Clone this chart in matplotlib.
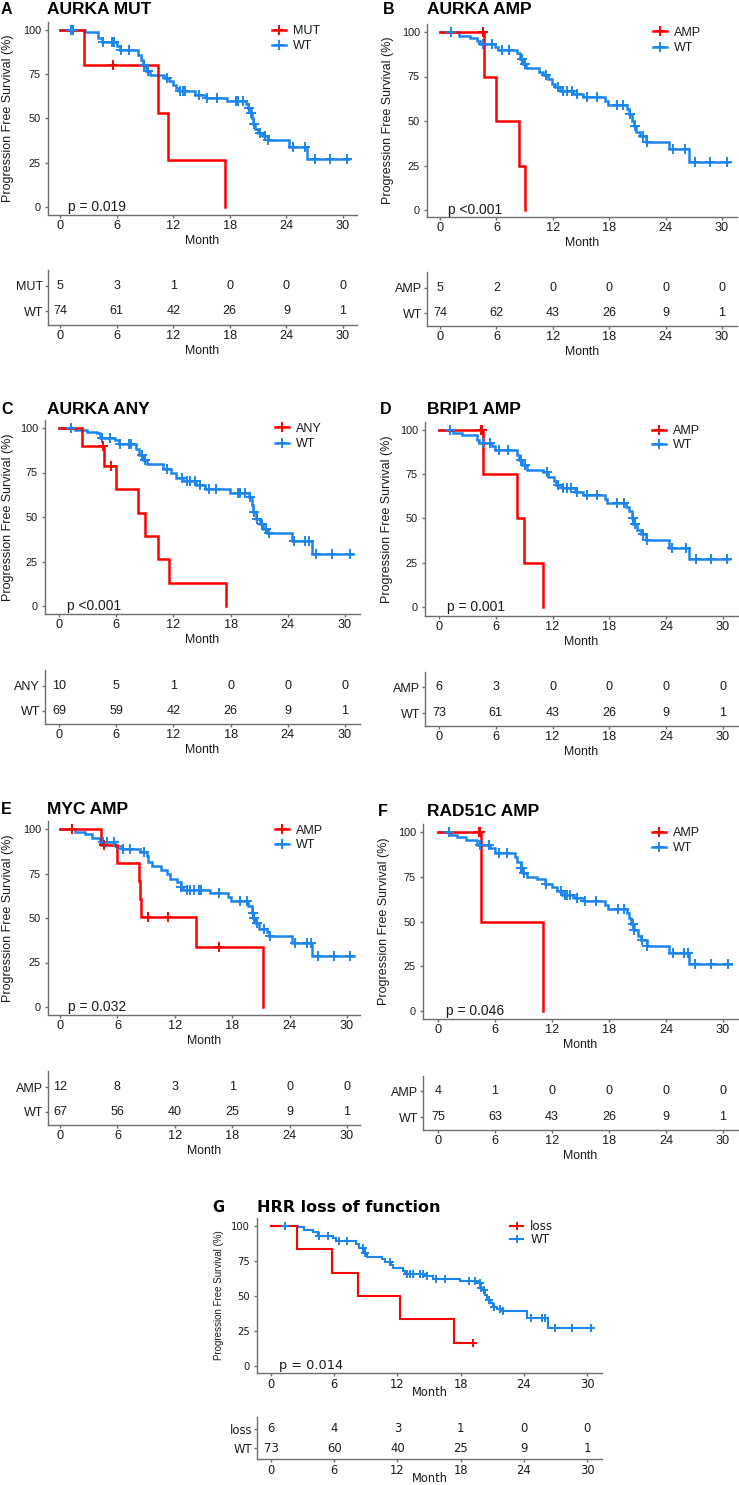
import numpy as np
import matplotlib
matplotlib.use("Agg")
import matplotlib.pyplot as plt
from matplotlib.transforms import Affine2D
from matplotlib.lines import Line2D

# ---------------- data ----------------
MONTHS = [0, 6, 12, 18, 24, 30]
SURV_TICKS = [0, 25, 50, 75, 100]

# A  AURKA MUT
a_title = "AURKA MUT"
a_groups = ["MUT", "WT"]
a_pval = "p = 0.019"
a_alt_t = [2.5, 10.4, 11.5, 17.5]
a_alt_s = [80, 53.3, 26.7, 0]
a_alt_cens = [5.6]
a_alt_end = 17.5
a_wt_t = [2.6, 4.0, 4.5, 6.0, 6.4, 8.3, 8.6, 8.8, 9.1, 9.5, 11.0, 11.6, 12.0, 12.3, 12.6,
          14.3, 15.5, 17.7, 19.7, 19.9, 20.2, 20.4, 20.5, 20.7, 21.0, 21.5, 22.0, 24.3, 26.2]
a_wt_s = [98.6, 95.5, 93, 91, 88.5, 86, 83, 80, 77, 74.5, 73, 71, 69, 67, 65.5,
          63.5, 61.5, 60, 58, 56, 53, 50, 47, 44, 42, 40, 38, 34, 27]
a_wt_cens = [1.2, 1.4, 4.6, 5.5, 5.7, 6.5, 7.3, 8.9, 9.3, 11.3, 12.7, 13.0, 13.3, 14.7, 15.6,
             16.6, 18.7, 18.9, 19.4, 20.0, 20.3, 20.55, 21.2, 21.7, 22.1, 24.7, 26.0, 27.0, 28.6, 30.4]
a_wt_end = 30.6
a_risk_alt = [5, 3, 1, 0, 0, 0]
a_risk_wt = [74, 61, 42, 26, 9, 1]

# B  AURKA AMP
b_title = "AURKA AMP"
b_groups = ["AMP", "WT"]
b_pval = "p <0.001"
b_alt_t = [4.7, 6.0, 8.4, 9.0]
b_alt_s = [75, 50, 25, 0]
b_alt_cens = [4.6]
b_alt_end = 9.0
b_wt_t = [2.0, 3.2, 3.9, 4.3, 5.9, 6.2, 8.2, 8.5, 8.8, 9.2, 10.5, 11.0, 11.5, 11.9, 12.2,
          12.8, 14.2, 15.2, 17.6, 17.9, 19.9, 20.1, 20.4, 20.6, 20.9, 21.3, 21.9, 24.4, 26.5]
b_wt_s = [98, 96.5, 95, 93, 91.5, 90, 88, 85, 82, 79.5, 77.5, 76, 73.5, 71, 69,
          67, 65, 63.5, 61, 59, 56.5, 54, 50, 47, 44, 41.5, 38, 34, 27]
b_wt_cens = [1.2, 4.6, 5.5, 6.6, 7.3, 8.7, 9.0, 11.3, 12.6, 13.1, 13.5, 14.0, 14.6, 15.6, 16.7,
             18.8, 19.5, 20.2, 20.7, 21.6, 22.0, 24.8, 26.1, 27.1, 28.7, 30.5]
b_wt_end = 30.7
b_risk_alt = [5, 2, 0, 0, 0, 0]
b_risk_wt = [74, 62, 43, 26, 9, 1]

# C  AURKA ANY
c_title = "AURKA ANY"
c_groups = ["ANY", "WT"]
c_pval = "p <0.001"
c_alt_t = [2.4, 4.7, 6.0, 8.3, 9.0, 10.4, 11.5, 17.5]
c_alt_s = [90, 78.8, 65.6, 52.5, 39.4, 26.3, 13.1, 0]
c_alt_cens = [4.6, 5.5]
c_alt_end = 17.5
c_wt_t = [1.7, 2.9, 4.0, 4.3, 5.9, 6.3, 8.1, 8.4, 8.8, 9.2, 10.9, 11.8, 12.3, 13.0, 14.4,
          15.3, 17.9, 19.9, 20.2, 20.4, 20.7, 21.1, 21.4, 21.8, 24.4, 26.5]
c_wt_s = [99, 98, 97, 94.5, 93, 91, 88, 85, 82, 79.5, 77, 74.5, 72, 70, 68,
          66, 63.5, 61, 57, 53, 49, 46, 43, 41, 36.5, 29]
c_wt_cens = [1.3, 4.5, 5.3, 6.4, 7.3, 7.5, 8.7, 9.0, 11.3, 12.9, 13.4, 13.7, 14.3, 14.8, 15.7,
             16.5, 18.8, 19.0, 19.5, 20.0, 20.45, 20.75, 21.3, 21.75, 22.0, 24.6, 25.8, 26.2,
             27.0, 28.6, 30.5]
c_wt_end = 30.8
c_risk_alt = [10, 5, 1, 0, 0, 0]
c_risk_wt = [69, 59, 42, 26, 9, 1]

# D  BRIP1 AMP
d_title = "BRIP1 AMP"
d_groups = ["AMP", "WT"]
d_pval = "p = 0.001"
d_alt_t = [4.6, 8.2, 9.0, 11.0]
d_alt_s = [75, 50, 25, 0]
d_alt_cens = [4.4, 4.5]
d_alt_end = 11.0
d_wt_t = [1.5, 2.4, 4.0, 4.2, 5.6, 5.9, 8.2, 8.5, 8.8, 9.3, 11.0, 11.5, 12.1, 12.4, 13.0,
          14.4, 15.2, 17.5, 17.7, 19.8, 20.1, 20.4, 20.5, 20.9, 21.3, 21.9, 24.3, 26.4]
d_wt_s = [98.5, 97, 94.5, 92.5, 91, 88.5, 86, 83, 80, 77.5, 76, 73.5, 71, 69, 67,
          65, 63, 61, 59, 56.5, 54, 50, 47, 43.5, 41, 38, 33.5, 27]
d_wt_cens = [1.2, 4.7, 5.4, 6.3, 7.3, 8.7, 9.1, 11.4, 12.6, 13.1, 13.5, 13.9, 14.6, 15.6, 16.7,
             18.8, 19.5, 20.45, 20.7, 21.6, 22.0, 24.6, 26.1, 27.1, 28.7, 30.4]
d_wt_end = 30.6
d_risk_alt = [6, 3, 0, 0, 0, 0]
d_risk_wt = [73, 61, 43, 26, 9, 1]

# E  MYC AMP
e_title = "MYC AMP"
e_groups = ["AMP", "WT"]
e_pval = "p = 0.032"
e_alt_t = [4.3, 6.0, 8.3, 8.4, 8.5, 14.2, 21.2]
e_alt_s = [90.9, 80.8, 70.7, 60.6, 50.5, 33.7, 0]
e_alt_cens = [1.3, 4.6, 9.2, 11.3, 16.6]
e_alt_end = 21.2
e_wt_t = [1.6, 2.6, 3.3, 4.2, 5.8, 6.5, 8.4, 9.1, 9.2, 9.6, 10.6, 11.2, 11.5, 12.2, 12.6,
          12.9, 15.7, 17.6, 17.9, 19.7, 20.1, 20.2, 20.4, 20.8, 21.6, 21.8, 24.2, 26.3]
e_wt_s = [98.5, 97, 95, 92.5, 90.5, 89, 87, 85, 81.5, 79, 77, 75, 72, 70, 67.5,
          66, 64, 62, 59.5, 57, 53, 50, 47, 44, 42, 40, 36, 28.5]
e_wt_cens = [1.3, 4.5, 4.9, 5.6, 6.6, 7.3, 8.8, 12.7, 13.3, 13.6, 14.0, 14.5, 14.7, 16.6, 18.8,
             19.5, 20.15, 20.3, 20.6, 21.3, 22.0, 24.6, 25.8, 26.2, 27.0, 28.6, 30.3]
e_wt_end = 30.7
e_risk_alt = [12, 8, 3, 1, 0, 0]
e_risk_wt = [67, 56, 40, 25, 9, 1]

# F  RAD51C AMP
f_title = "RAD51C AMP"
f_groups = ["AMP", "WT"]
f_pval = "p = 0.046"
f_alt_t = [4.5, 11.0]
f_alt_s = [50, 0]
f_alt_cens = [4.3, 4.4]
f_alt_end = 11.0
f_wt_t = [1.4, 2.0, 2.9, 4.1, 5.5, 6.0, 8.1, 8.3, 8.7, 8.9, 9.4, 10.4, 11.3, 12.0, 12.5,
          13.1, 14.3, 15.4, 17.6, 17.9, 19.9, 20.1, 20.3, 20.6, 21.0, 21.4, 22.0, 24.3, 26.4]
f_wt_s = [98.5, 97, 95.5, 93, 91, 88.5, 86, 83, 80, 77, 75, 73.5, 71, 69, 67,
          65, 63, 61.5, 59, 57, 54.5, 52, 48.5, 45, 42, 39.5, 36.5, 32.5, 26]
f_wt_cens = [1.2, 4.4, 5.4, 6.4, 7.3, 8.75, 8.85, 9.1, 11.35, 12.9, 13.4, 13.6, 13.9, 14.6, 15.5,
             16.6, 18.9, 19.6, 20.5, 20.65, 21.5, 22.05, 24.7, 25.9, 26.3, 27.1, 28.7, 30.5]
f_wt_end = 30.8
f_risk_alt = [4, 1, 0, 0, 0, 0]
f_risk_wt = [75, 63, 43, 26, 9, 1]

# G  HRR loss of function
g_title = "HRR loss of function"
g_groups = ["loss", "WT"]
g_pval = "p = 0.014"
g_alt_t = [2.5, 5.75, 8.3, 12.2, 17.4]
g_alt_s = [83.3, 66.7, 50, 33.3, 16.7]
g_alt_cens = [19.2]
g_alt_end = 19.2
g_wt_t = [2.6, 3.1, 4.0, 4.5, 5.9, 6.2, 8.1, 8.4, 8.8, 9.1, 10.5, 10.8, 11.4, 11.6, 12.5,
          12.7, 14.6, 15.4, 17.9, 19.5, 19.9, 20.1, 20.3, 20.5, 20.8, 21.1, 21.5, 21.8, 24.3, 26.3]
g_wt_s = [99, 97, 95.5, 93, 91.5, 89.5, 87, 84, 81, 78, 76.5, 74, 72, 70, 68,
          66, 64, 62, 60.5, 59, 56, 54, 51, 47, 45, 42.5, 40.5, 39, 34, 27.5]
g_wt_cens = [1.3, 4.6, 5.4, 6.5, 7.2, 8.7, 8.9, 11.3, 12.9, 13.2, 13.5, 14.1, 14.4, 14.8, 15.7,
             16.5, 18.8, 19.4, 19.8, 19.95, 20.25, 20.7, 21.2, 21.7, 22.0, 24.7, 25.7, 26.0,
             27.0, 28.6, 30.4]
g_wt_end = 30.7
g_risk_alt = [6, 4, 3, 1, 0, 0]
g_risk_wt = [73, 60, 40, 25, 9, 1]

# ---------------- styling / layout ----------------
W, H = 739, 1485
RED = "#FF0000"
BLUE = "#1C86EE"
AXC = "#6E6E6E"
TXT = "#1A1A1A"

plt.rcParams["font.family"] = ["Liberation Sans", "DejaVu Sans"]

fig = plt.figure(figsize=(W / 100, H / 100), dpi=100)
fig.patch.set_facecolor("white")
PX = Affine2D().scale(1.0 / W, -1.0 / H).translate(0, 1) + fig.transFigure

panels = [
    dict(letter="A", title=a_title, groups=a_groups, pval=a_pval,
         alt=(a_alt_t, a_alt_s, a_alt_cens, a_alt_end), wt=(a_wt_t, a_wt_s, a_wt_cens, a_wt_end),
         risk=(a_risk_alt, a_risk_wt),
         L=dict(left=48, x0=60, x30=343, right=357, top=22, y100=30, y0=207, bottom=215,
                ttop=270, r2=286, r1=311, tbot=325, title_y=9, letter_x=1, title_x=47,
                ylab_x=8, leg_x=272, leg_y=33, leg_dy=17)),
    dict(letter="B", title=b_title, groups=b_groups, pval=b_pval,
         alt=(b_alt_t, b_alt_s, b_alt_cens, b_alt_end), wt=(b_wt_t, b_wt_s, b_wt_cens, b_wt_end),
         risk=(b_risk_alt, b_risk_wt),
         L=dict(left=427, x0=440, x30=722, right=737, top=24, y100=32, y0=210, bottom=217,
                ttop=272, r2=288, r1=313, tbot=326, title_y=10, letter_x=383, title_x=427,
                ylab_x=388, leg_x=653, leg_y=34, leg_dy=18)),
    dict(letter="C", title=c_title, groups=c_groups, pval=c_pval,
         alt=(c_alt_t, c_alt_s, c_alt_cens, c_alt_end), wt=(c_wt_t, c_wt_s, c_wt_cens, c_wt_end),
         risk=(c_risk_alt, c_risk_wt),
         L=dict(left=45, x0=59, x30=345, right=360, top=420, y100=428, y0=606, bottom=614,
                ttop=670, r2=686, r1=711, tbot=724, title_y=409, letter_x=1, title_x=47,
                ylab_x=8, leg_x=275, leg_y=430, leg_dy=18)),
    dict(letter="D", title=d_title, groups=d_groups, pval=d_pval,
         alt=(d_alt_t, d_alt_s, d_alt_cens, d_alt_end), wt=(d_wt_t, d_wt_s, d_wt_cens, d_wt_end),
         risk=(d_risk_alt, d_risk_wt),
         L=dict(left=425, x0=439, x30=723, right=738, top=422, y100=430, y0=607, bottom=616,
                ttop=672, r2=687, r1=713, tbot=726, title_y=410, letter_x=380, title_x=427,
                ylab_x=387, leg_x=652, leg_y=433, leg_dy=16)),
    dict(letter="E", title=e_title, groups=e_groups, pval=e_pval,
         alt=(e_alt_t, e_alt_s, e_alt_cens, e_alt_end), wt=(e_wt_t, e_wt_s, e_wt_cens, e_wt_end),
         risk=(e_risk_alt, e_risk_wt),
         L=dict(left=48, x0=60, x30=347, right=360, top=821, y100=829, y0=1007, bottom=1015,
                ttop=1071, r2=1087, r1=1112, tbot=1125, title_y=810, letter_x=1, title_x=47,
                ylab_x=8, leg_x=275, leg_y=832, leg_dy=17)),
    dict(letter="F", title=f_title, groups=f_groups, pval=f_pval,
         alt=(f_alt_t, f_alt_s, f_alt_cens, f_alt_end), wt=(f_wt_t, f_wt_s, f_wt_cens, f_wt_end),
         risk=(f_risk_alt, f_risk_wt),
         L=dict(left=423, x0=438, x30=723, right=738, top=824, y100=832, y0=1011, bottom=1019,
                ttop=1076, r2=1091, r1=1117, tbot=1130, title_y=811, letter_x=378, title_x=427,
                ylab_x=384, leg_x=652, leg_y=835, leg_dy=17)),
    dict(letter="G", title=g_title, groups=g_groups, pval=g_pval,
         alt=(g_alt_t, g_alt_s, g_alt_cens, g_alt_end), wt=(g_wt_t, g_wt_s, g_wt_cens, g_wt_end),
         risk=(g_risk_alt, g_risk_wt),
         L=dict(left=257, x0=271, x30=587, right=602, top=1218, y100=1226, y0=1366, bottom=1373,
                ttop=1417, r2=1429, r1=1448, tbot=1459, title_y=1208, letter_x=212, title_x=257,
                ylab_x=219, leg_x=510, leg_y=1227, leg_dy=14), small=True),
]


def add_px_axes(l, t, r, b):
    return fig.add_axes([l / W, 1 - b / H, (r - l) / W, (b - t) / H])


def style_axes(ax):
    for s in ("top", "right"):
        ax.spines[s].set_visible(False)
    for s in ("left", "bottom"):
        ax.spines[s].set_color(AXC)
        ax.spines[s].set_linewidth(1.0)
    ax.set_facecolor("none")


def km(ax, t, s, cens, end, color, lw, ms):
    t = np.asarray(t, float)
    s = np.asarray(s, float)
    xs = np.concatenate([[0.0], t])
    ys = np.concatenate([[100.0], s])
    if end > t[-1]:
        xs = np.append(xs, end)
        ys = np.append(ys, s[-1])
    ax.step(xs, ys, where="post", color=color, lw=lw, solid_joinstyle="miter", zorder=3)
    c = np.asarray(cens, float)
    idx = np.searchsorted(t, c, side="right")
    cs = np.where(idx == 0, 100.0, s[np.maximum(idx - 1, 0)])
    ax.plot(c, cs, ls="none", marker="+", color=color, ms=ms, mew=1.4, zorder=4)


for p in panels:
    L = p["L"]
    small = p.get("small", False)
    fam = "DejaVu Sans" if small else "Liberation Sans"
    lw = 1.5 if small else 1.8
    ms = 6 if small else 7
    fs_ytick = 7.2 if small else 7.8
    fs_xtick = 8.3 if small else 9.2
    fs_month = 8.3 if small else 8.8
    fs_ylab = 7.0 if small else 9.0
    fs_p = 9.3 if small else 10.0
    fs_leg = 8.6 if small else 9.0
    fs_tab = 8.4 if small else 9.0

    ppm = (L["x30"] - L["x0"]) / 30.0
    xlim = (-(L["x0"] - L["left"]) / ppm, 30 + (L["right"] - L["x30"]) / ppm)
    ppu = (L["y0"] - L["y100"]) / 100.0
    ylim = (-(L["bottom"] - L["y0"]) / ppu, 100 + (L["y100"] - L["top"]) / ppu)

    # ---- survival plot ----
    ax = add_px_axes(L["left"], L["top"], L["right"], L["bottom"])
    style_axes(ax)
    t, s, c, e = p["wt"]
    km(ax, t, s, c, e, BLUE, lw, ms)
    t, s, c, e = p["alt"]
    km(ax, t, s, c, e, RED, lw, ms)
    ax.set_xlim(*xlim)
    ax.set_ylim(*ylim)
    ax.set_xticks(MONTHS)
    ax.set_yticks(SURV_TICKS)
    ax.tick_params(axis="x", colors=AXC, length=2.5, width=1.0, pad=1.0,
                   labelsize=fs_xtick, labelcolor=TXT)
    ax.tick_params(axis="y", colors=AXC, length=2.5, width=1.0, pad=2.5,
                   labelsize=fs_ytick, labelcolor=TXT)
    for lb in ax.get_xticklabels() + ax.get_yticklabels():
        lb.set_family(fam)

    fig.text(L["ylab_x"], (L["top"] + L["bottom"]) / 2, "Progression Free Survival (%)",
             rotation=90, ha="center", va="center", fontsize=fs_ylab, color=TXT,
             family="Liberation Sans", transform=PX)
    mid_x = (L["left"] + L["right"]) / 2
    month_off = 19 if small else 26
    fig.text(mid_x, L["bottom"] + month_off, "Month", ha="center", va="center",
             fontsize=fs_month, color=TXT, family=fam, transform=PX)

    ax.text(0.8, 0, p["pval"], ha="left", va="center", fontsize=fs_p, color=TXT, family=fam,
            zorder=5)

    # title + letter
    fig.text(L["letter_x"], L["title_y"], p["letter"], ha="left", va="center",
             fontsize=10.5 if small else 11.5, fontweight="bold", color="black",
             family=fam, transform=PX)
    fig.text(L["title_x"], L["title_y"], p["title"], ha="left", va="center",
             fontsize=11.5 if small else 12.5, fontweight="bold", color="black",
             family=fam, transform=PX)

    # legend
    handles = [Line2D([], [], color=RED, lw=lw, marker="+", ms=ms, mew=1.4),
               Line2D([], [], color=BLUE, lw=lw, marker="+", ms=ms, mew=1.4)]
    fpx = fs_leg * 100 / 72
    leg = ax.legend(handles, p["groups"], loc="upper left",
                    bbox_to_anchor=(L["leg_x"], L["leg_y"] - fpx * 0.6),
                    bbox_transform=PX, frameon=False, borderpad=0, borderaxespad=0,
                    handlelength=1.1, handletextpad=0.6,
                    labelspacing=max(0.0, (L["leg_dy"] - fpx * 1.15) / fpx),
                    prop=dict(family=fam, size=fs_leg))
    for tx in leg.get_texts():
        tx.set_color(TXT)

    # ---- risk table ----
    ppr = L["r1"] - L["r2"]
    ax2 = add_px_axes(L["left"], L["ttop"], L["right"], L["tbot"])
    style_axes(ax2)
    ax2.set_xlim(*xlim)
    ax2.set_ylim(1 - (L["tbot"] - L["r1"]) / ppr, 2 + (L["r2"] - L["ttop"]) / ppr)
    ax2.set_xticks(MONTHS)
    ax2.set_yticks([1, 2])
    ax2.set_yticklabels([p["groups"][1], p["groups"][0]])
    ax2.tick_params(axis="x", colors=AXC, length=2.5, width=1.0, pad=1.0,
                    labelsize=fs_xtick, labelcolor=TXT)
    ax2.tick_params(axis="y", colors=AXC, length=2.0, width=1.0, pad=1.5,
                    labelsize=fs_tab, labelcolor=TXT)
    for lb in ax2.get_xticklabels() + ax2.get_yticklabels():
        lb.set_family(fam)
    alt_r, wt_r = p["risk"]
    for m, n in zip(MONTHS, alt_r):
        ax2.text(m, 2, str(n), ha="center", va="center", fontsize=fs_tab, color=TXT, family=fam)
    for m, n in zip(MONTHS, wt_r):
        ax2.text(m, 1, str(n), ha="center", va="center", fontsize=fs_tab, color=TXT, family=fam)
    fig.text(mid_x, L["tbot"] + month_off, "Month", ha="center", va="center",
             fontsize=fs_month, color=TXT, family=fam, transform=PX)

fig.savefig("out.png", dpi=100, facecolor="white")
